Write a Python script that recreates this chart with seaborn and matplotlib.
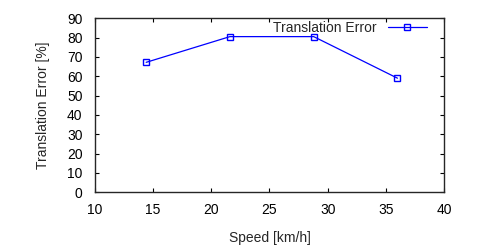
import matplotlib
matplotlib.use("Agg")
import matplotlib.pyplot as plt
import pandas as pd
import seaborn as sns

speed_kmh = [14.4, 21.6, 28.8, 36.0]
trans_err = [67.2, 80.5, 80.5, 59.0]
series_label = "Translation Error"

sns.set_style("ticks")
plt.rcParams.update({
    "font.family": ["Liberation Sans", "DejaVu Sans"],
    "font.size": 10,
    "xtick.direction": "in", "ytick.direction": "in",
    "xtick.top": True, "ytick.right": True,
    "axes.linewidth": 1.0,
})

df = pd.DataFrame({"speed": speed_kmh, "err": trans_err})

fig = plt.figure(figsize=(5, 2.5), dpi=100)
ax = fig.add_axes([0.19, 0.231, 0.698, 0.696])
sns.lineplot(data=df, x="speed", y="err", ax=ax, color="#0000ff", lw=0.9,
             marker="s", markersize=5, markerfacecolor="none",
             markeredgecolor="#0000ff", markeredgewidth=1.0, label=series_label)

ax.set_xlim(10, 40)
ax.set_ylim(0, 90)
ax.set_xticks(range(10, 41, 5))
ax.set_yticks(range(0, 91, 10))
ax.tick_params(length=3, width=0.8, colors="black", labelsize=10)
ax.tick_params(axis="x", pad=8)
ax.tick_params(axis="y", pad=9)
ax.set_xlabel("Speed [km/h]", fontsize=10, labelpad=10)
ax.set_ylabel("Translation Error [%]", fontsize=10, labelpad=12)

leg = ax.legend(loc="upper right", frameon=False, markerfirst=False,
                handlelength=2.8, fontsize=10, borderaxespad=0, borderpad=0,
                handletextpad=0.85, bbox_to_anchor=(0.951, 0.985))

fig.savefig("out.png", dpi=100)
